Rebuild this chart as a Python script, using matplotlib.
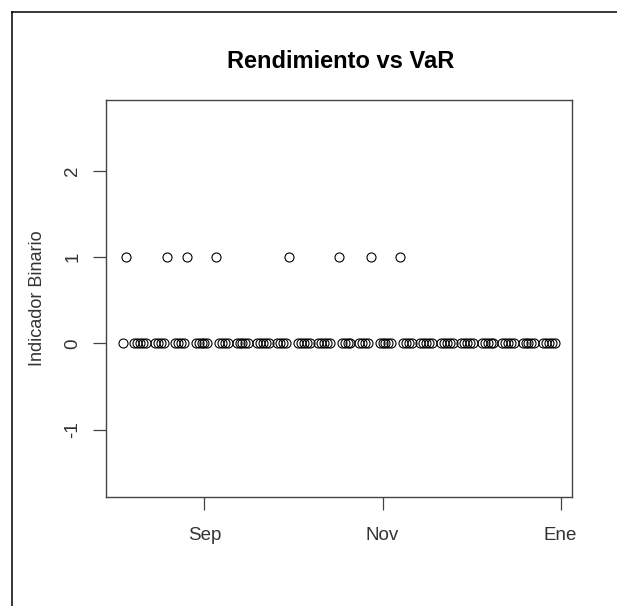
# Indicador binario de excepciones del VaR (rendimiento por debajo del VaR)
import pandas as pd
import matplotlib.pyplot as plt
import matplotlib.dates as mdates
from matplotlib.lines import Line2D

# datos
fecha_inicio = '2011-08-04'
fecha_fin = '2011-12-30'
fechas_excepcion = ['2011-08-05', '2011-08-19', '2011-08-26', '2011-09-05',
                    '2011-09-30', '2011-10-17', '2011-10-28', '2011-11-07']
ticks_fechas = ['2011-09-01', '2011-11-01', '2012-01-01']
ticks_etiquetas = ['Sep', 'Nov', 'Ene']
y_ticks = [-1, 0, 1, 2]

# dias habiles y el indicador (1 = excepcion)
dias = pd.bdate_range(fecha_inicio, fecha_fin)
indicador = pd.Series(0, index=dias)
indicador[pd.to_datetime(fechas_excepcion)] = 1

plt.rcParams['font.family'] = ['Liberation Sans', 'DejaVu Sans']
gris = '#444444'

fig1 = plt.figure(figsize=(6.17, 6.06), dpi=100)
ax1 = fig1.add_axes([105.5 / 617, 109 / 606, 466.5 / 617, 397 / 606])
ax1.plot(indicador.index, indicador.values, linestyle='none', marker='o',
         markersize=6.5, markerfacecolor='none', markeredgecolor='black',
         markeredgewidth=0.8)

# limites estilo R (4% de margen en x)
x0 = mdates.date2num(dias[0])
x1 = mdates.date2num(dias[-1])
pad = 0.04 * (x1 - x0)
ax1.set_xlim(x0 - pad, x1 + pad)
ax1.set_ylim(-1.78, 2.82)

ax1.set_xticks(mdates.date2num(pd.to_datetime(ticks_fechas)))
ax1.set_xticklabels(ticks_etiquetas)
ax1.set_yticks(y_ticks)
ax1.set_yticklabels([str(v) for v in y_ticks], rotation=90, va='center')
ax1.tick_params(axis='both', direction='out', length=9.4, width=0.9,
                color=gris, labelcolor='#333333', labelsize=13.5)
ax1.tick_params(axis='x', pad=12)
ax1.tick_params(axis='y', pad=8)
for s in ax1.spines.values():
    s.set_color(gris)
    s.set_linewidth(1.0)

ax1.set_ylabel('Indicador Binario', fontsize=13, color='#333333', labelpad=13)
fig1.text(341 / 617, 1 - 62 / 606, 'Rendimiento vs VaR', ha='center',
          va='center', fontsize=17, fontweight='bold')

# borde superior e izquierdo de la captura
fig1.add_artist(Line2D([12 / 617, 1], [1 - 12 / 606, 1 - 12 / 606],
                       color='black', linewidth=1.1))
fig1.add_artist(Line2D([12 / 617, 12 / 617], [0, 1 - 12 / 606],
                       color='black', linewidth=1.1))

fig1.savefig('out.png', dpi=100)
